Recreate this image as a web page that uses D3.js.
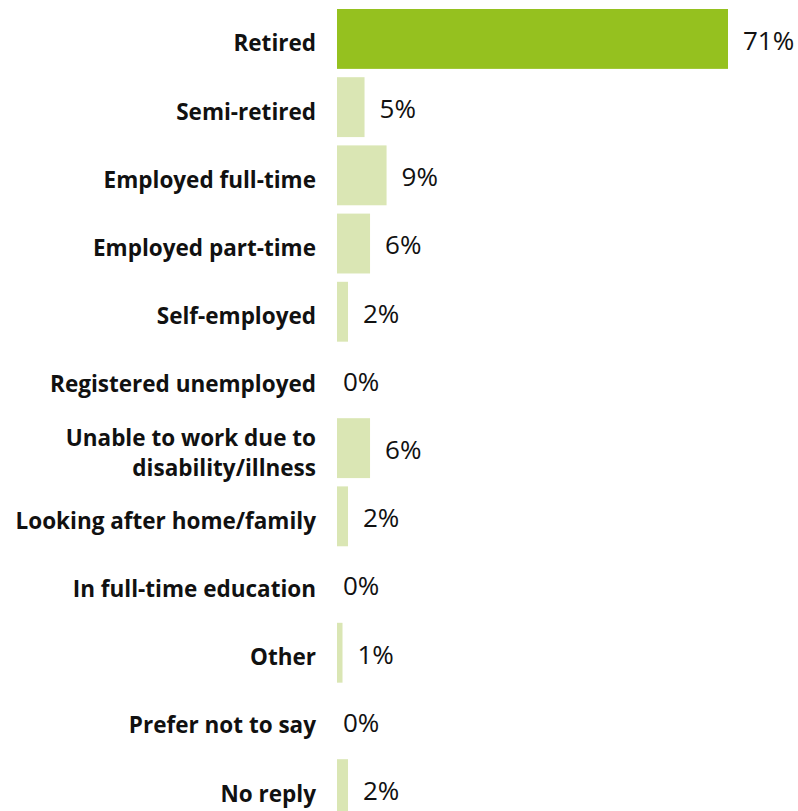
<!DOCTYPE html>
<html>
<head>
<meta charset="utf-8">
<script src="https://cdn.jsdelivr.net/npm/d3@7"></script>
<style>
  html, body { margin: 0; padding: 0; background: #fff; }
  svg { display: block; }
</style>
</head>
<body>
<svg id="chart" width="798" height="811"></svg>
<script>
// Employment status, share of respondents (%)
const categories = [
  "Retired",
  "Semi-retired",
  "Employed full-time",
  "Employed part-time",
  "Self-employed",
  "Registered unemployed",
  "Unable to work due to\ndisability/illness",
  "Looking after home/family",
  "In full-time education",
  "Other",
  "Prefer not to say",
  "No reply"
];
const values = [71, 5, 9, 6, 2, 0, 6, 2, 0, 1, 0, 2];
const highlight = ["Retired"];

const svg = d3.select("#chart");
const data = categories.map((c, i) => ({ cat: c, value: values[i] }));

const step = 68.2;
const x = d3.scaleLinear().domain([0, 71]).range([337, 728]);
const y = d3.scaleBand()
  .domain(categories)
  .range([4.84, 4.84 + categories.length * step])
  .paddingInner(0.122)
  .paddingOuter(0.061);

// bars
svg.append("g")
  .selectAll("rect")
  .data(data)
  .join("rect")
  .attr("x", x(0))
  .attr("y", d => y(d.cat))
  .attr("width", d => x(d.value) - x(0))
  .attr("height", y.bandwidth())
  .attr("fill", d => highlight.includes(d.cat) ? "#95c11f" : "#dae6b4");

// category labels
const labelSize = 22.5;
const labels = svg.append("g")
  .attr("font-family", "'Open Sans', sans-serif")
  .attr("font-weight", 700)
  .attr("font-size", labelSize)
  .attr("fill", "#111")
  .attr("text-anchor", "end");

labels.selectAll("text")
  .data(data)
  .join("text")
  .attr("x", 316)
  .attr("y", d => y(d.cat) + y.bandwidth() / 2)
  .each(function (d) {
    const lines = d.cat.split("\n");
    const lh = 30;
    const t = d3.select(this);
    lines.forEach((ln, i) => {
      t.append("tspan")
        .attr("x", 316)
        .attr("dy", i === 0 ? (0.55 * labelSize - (lines.length - 1) * lh / 2) : lh)
        .text(ln);
    });
  });

// value labels
svg.append("g")
  .attr("font-family", "'Open Sans', sans-serif")
  .attr("font-size", 26)
  .attr("fill", "#111")
  .selectAll("text")
  .data(data)
  .join("text")
  .attr("x", d => x(d.value) + (d.value > 0 ? 15 : 6))
  .attr("y", d => y(d.cat) + y.bandwidth() / 2)
  .attr("dy", "0.42em")
  .text(d => d.value + "%");
</script>
</body>
</html>
